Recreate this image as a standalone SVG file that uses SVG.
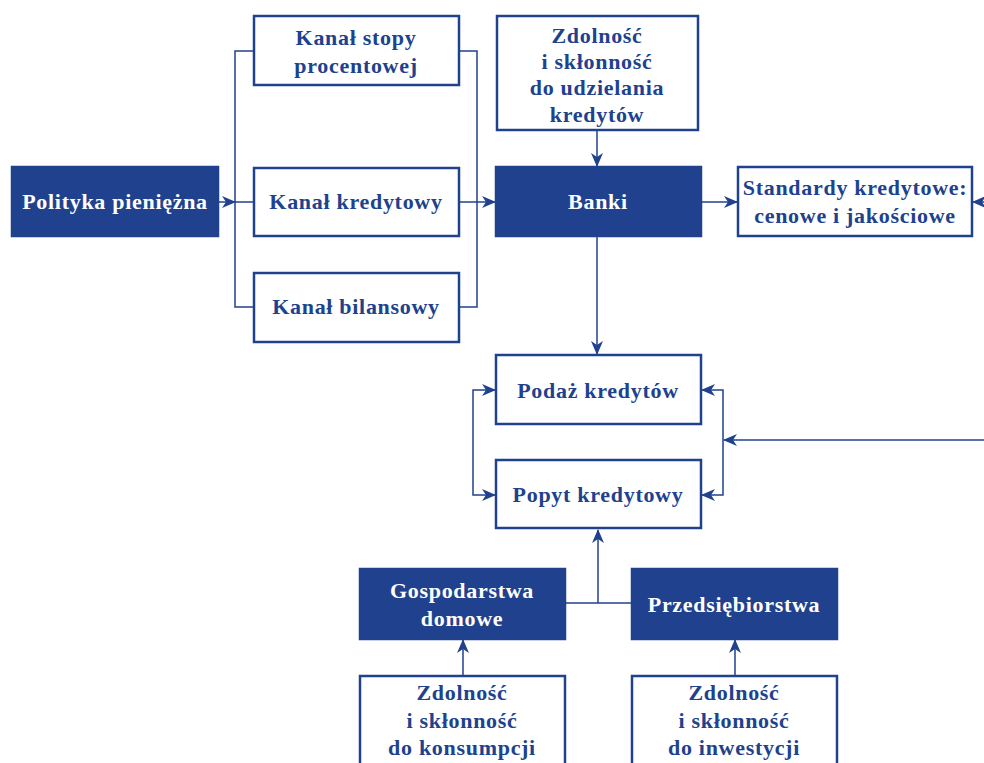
<svg xmlns="http://www.w3.org/2000/svg" width="984" height="763" viewBox="0 0 984 763">
<style>
.box{fill:#fff;stroke:#20428e;stroke-width:2.5}
.fbox{fill:#20428e;stroke:#20428e;stroke-width:2.5}
.t{font-family:"Liberation Serif","DejaVu Serif",serif;font-weight:bold;font-size:22px;fill:#20428e;text-anchor:middle;letter-spacing:0.7px}
.w{fill:#fff}
.c{fill:none;stroke:#20428e;stroke-width:1.5}
.a{marker-end:url(#ah)}
.s{marker-start:url(#ahs)}
</style>
<defs>
<marker id="ah" markerWidth="14" markerHeight="12" refX="13" refY="6" orient="auto" markerUnits="userSpaceOnUse">
<path d="M0,0 L14,6 L0,12 L4,6 z" fill="#20428e"/>
</marker>
<marker id="ahs" markerWidth="14" markerHeight="12" refX="13" refY="6" orient="auto-start-reverse" markerUnits="userSpaceOnUse">
<path d="M0,0 L14,6 L0,12 L4,6 z" fill="#20428e"/>
</marker>
</defs>
<rect width="984" height="763" fill="#fff"/>
<g id="connectors">
<line class="c a" x1="218" y1="202" x2="235" y2="202"/>
<line class="c" x1="235" y1="202" x2="254" y2="202"/>
<polyline class="c" points="254,51 235,51 235,307 254,307"/>
<polyline class="c" points="459,51 477,51 477,307 459,307"/>
<line class="c" x1="459" y1="202" x2="477" y2="202"/>
<line class="c a" x1="477" y1="202" x2="495" y2="202"/>
<line class="c a" x1="597" y1="130" x2="597" y2="166"/>
<line class="c a" x1="701" y1="202" x2="737" y2="202"/>
<line class="c a" x1="990" y1="202" x2="973" y2="202"/>
<line class="c a" x1="597" y1="236" x2="597" y2="354"/>
<polyline class="c a s" points="495,390 473,390 473,495 495,495"/>
<polyline class="c a" points="723,440 723,390 702,390"/>
<polyline class="c a" points="723,440 723,495 702,495"/>
<line class="c a" x1="990" y1="440" x2="724" y2="440"/>
<line class="c" x1="566" y1="603" x2="631" y2="603"/>
<line class="c a" x1="598" y1="603" x2="598" y2="530"/>
<line class="c a" x1="463" y1="675" x2="463" y2="640"/>
<line class="c a" x1="735" y1="675" x2="735" y2="640"/>
</g>
<g id="polityka">
<rect class="fbox" x="12" y="167" width="206" height="69"/>
<text class="t w" x="115" y="209">Polityka pieniężna</text>
</g>
<g id="kanal-stopy">
<rect class="box" x="254" y="16" width="205" height="69"/>
<text class="t" x="356" y="45">Kanał stopy</text>
<text class="t" x="356" y="73">procentowej</text>
</g>
<g id="kanal-kredytowy">
<rect class="box" x="254" y="168" width="205" height="68"/>
<text class="t" x="356" y="209">Kanał kredytowy</text>
</g>
<g id="kanal-bilansowy">
<rect class="box" x="254" y="273" width="205" height="69"/>
<text class="t" x="356" y="314">Kanał bilansowy</text>
</g>
<g id="zdolnosc-kredyty">
<rect class="box" x="497" y="16" width="201" height="114"/>
<text class="t" x="597" y="43">Zdolność</text>
<text class="t" x="597" y="69">i skłonność</text>
<text class="t" x="597" y="95">do udzielania</text>
<text class="t" x="597" y="122">kredytów</text>
</g>
<g id="banki">
<rect class="fbox" x="496" y="167" width="205" height="69"/>
<text class="t w" x="598" y="209">Banki</text>
</g>
<g id="standardy">
<rect class="box" x="738" y="167" width="234" height="69"/>
<text class="t" x="855" y="195">Standardy kredytowe:</text>
<text class="t" x="855" y="223">cenowe i jakościowe</text>
</g>
<g id="podaz">
<rect class="box" x="496" y="355" width="205" height="69"/>
<text class="t" x="598" y="398">Podaż kredytów</text>
</g>
<g id="popyt">
<rect class="box" x="496" y="460" width="205" height="68"/>
<text class="t" x="598" y="502">Popyt kredytowy</text>
</g>
<g id="gospodarstwa">
<rect class="fbox" x="360" y="569" width="205" height="70"/>
<text class="t w" x="462" y="598">Gospodarstwa</text>
<text class="t w" x="462" y="626">domowe</text>
</g>
<g id="przedsiebiorstwa">
<rect class="fbox" x="632" y="569" width="205" height="70"/>
<text class="t w" x="734" y="612">Przedsiębiorstwa</text>
</g>
<g id="zdolnosc-konsumpcji">
<rect class="box" x="360" y="676" width="205" height="100"/>
<text class="t" x="462" y="700">Zdolność</text>
<text class="t" x="462" y="728">i skłonność</text>
<text class="t" x="462" y="755">do konsumpcji</text>
</g>
<g id="zdolnosc-inwestycji">
<rect class="box" x="632" y="676" width="205" height="100"/>
<text class="t" x="734" y="700">Zdolność</text>
<text class="t" x="734" y="728">i skłonność</text>
<text class="t" x="734" y="755">do inwestycji</text>
</g>
</svg>
